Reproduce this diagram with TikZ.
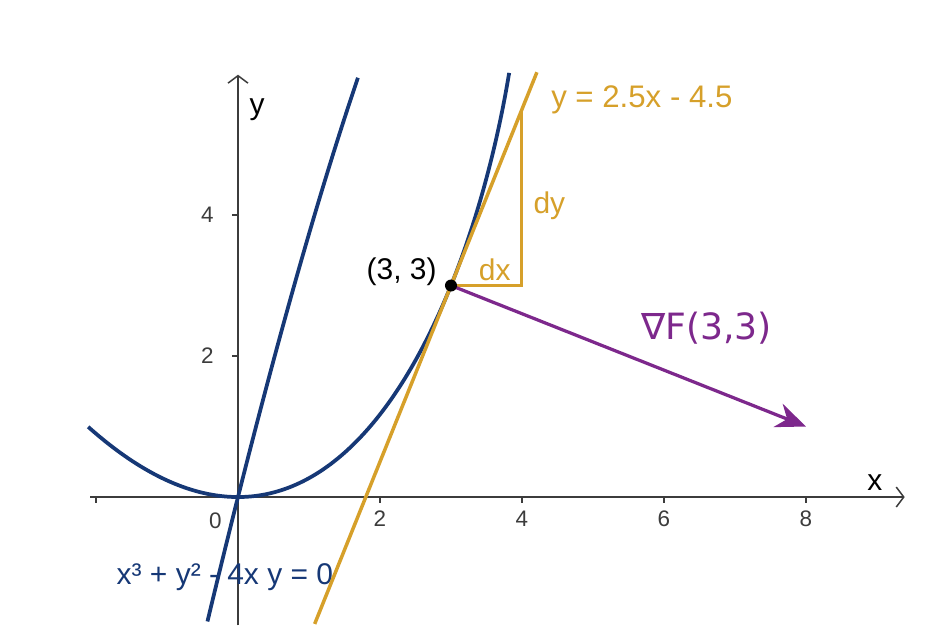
\documentclass[tikz,border=0pt]{standalone}
\usepackage{fontspec}
\setmainfont{Liberation Sans}
\newfontfamily\nablafont{DejaVu Sans}
\usetikzlibrary{calc,positioning,arrows.meta}

\definecolor{curveblue}{RGB}{22,56,118}
\definecolor{tangold}{RGB}{214,160,42}
\definecolor{gradpurple}{RGB}{125,40,140}
\definecolor{axisgray}{RGB}{60,60,60}

\begin{document}
\begin{tikzpicture}[x=1cm, y=0.993cm, every node/.style={inner sep=1pt, font=\fontsize{12}{14}\selectfont},
  axis/.style={axisgray, line width=0.6pt},
  ticklabel/.style={font=\fontsize{9}{11}\selectfont, text=axisgray},
  curve/.style={curveblue, line width=1.5pt},
  tangent/.style={tangold, line width=1.4pt}]
  \useasboundingbox (-3.352,-2.04) rectangle (9.958,7.05);

  % axes
  \coordinate (O) at (0,0);
  \coordinate (xs) at (-2.08,0);
  \coordinate (xe) at (9.39,0);
  \coordinate (ys) at (0,-1.82);
  \coordinate (ye) at (0,5.99);
  \draw[axis, -{Straight Barb[length=3pt,width=8pt]}] (xs) -- (xe);
  \draw[axis, -{Straight Barb[length=3pt,width=8pt]}] (ys) -- (ye);
  \foreach \t in {-2,2,4,6,8} \draw[axis] (\t,0) -- (\t,-0.08);
  \foreach \t in {2,4} \draw[axis] (0,\t) -- (-0.08,\t);
  \foreach \t in {2,4,6,8} \node[ticklabel, anchor=north] at (\t,-0.15) {\t};
  \foreach \t in {2,4} \node[ticklabel, anchor=east] at (-0.3,\t) {\t};
  \node[ticklabel] (zero) at (-0.32,-0.34) {0};
  \node (xlab) at (8.97,0.21) {x};
  \node (ylab) at (0.27,5.49) {y};

  % the curve, both branches
  \draw[curve] plot[domain=-2.11:3.82, samples=150, smooth] (\x, {\x*(2-sqrt(4-\x))});
  \draw[curve] plot[domain=-0.43:1.69, samples=60, smooth] (\x, {\x*(2+sqrt(4-\x))});
  \node[text=curveblue, anchor=west] (eq) at (-1.75,-1.13) {x³ + y² - 4x y = 0};

  % tangent and slope triangle
  \coordinate (P) at (3,3);
  \coordinate (Q) at (4,3);
  \coordinate (R) at (4,5.5);
  \coordinate (t1) at (1.08,-1.8);
  \coordinate (t2) at (4.21,6.025);
  \draw[tangent] (t1) -- (t2);
  \draw[tangent, line width=1.2pt] (P) -- (Q) -- (R);
  \node[text=tangold, right=0.37cm of R, yshift=0.13cm, font=\fontsize{12.5}{15}\selectfont] (tlab) {y = 2.5x - 4.5};
  \node[text=tangold, right=0.12cm of $(Q)!0.45!(R)$] (dy) {dy};
  \node[text=tangold, above left=0.02cm and 0.12cm of Q] (dx) {dx};

  % gradient
  \coordinate (G) at (8,1);
  \draw[gradpurple, line width=1.3pt, -{Stealth[length=12pt,width=10pt]}] (P) -- (G);
  \node[text=gradpurple, font=\nablafont\fontsize{14.5}{17}\selectfont] (grad) at (6.6,2.4) {∇F(3,3)};

  \fill (P) circle (0.085);
  \node[left=0.16cm of P, yshift=0.2cm] (plab) {(3, 3)};
\end{tikzpicture}
\end{document}
